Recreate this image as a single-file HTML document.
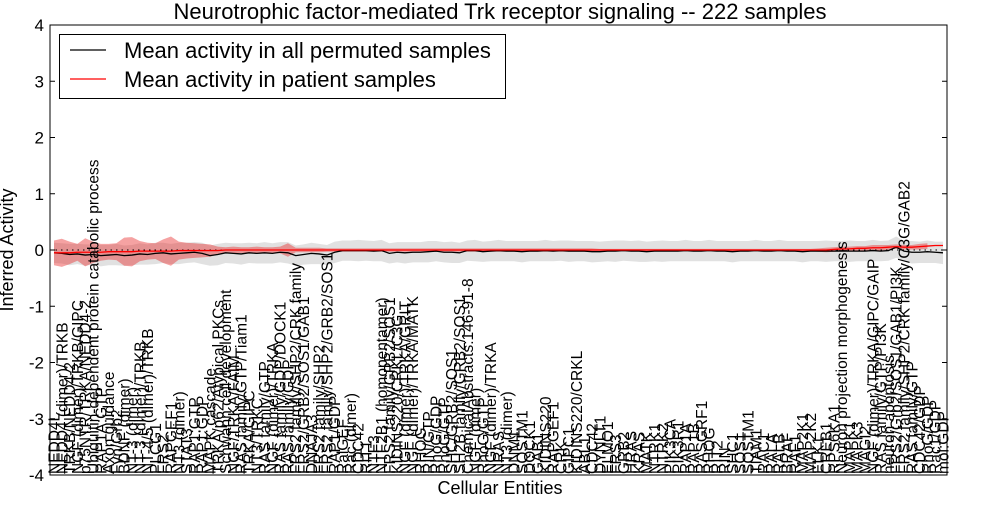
<!DOCTYPE html>
<html><head><meta charset="utf-8"><style>
body{margin:0;background:#fff;}
svg text{font-family:"Liberation Sans",sans-serif;}
</style></head><body>
<svg id="chart" width="1000" height="500" xmlns="http://www.w3.org/2000/svg">
<rect width="1000" height="500" fill="#fff"/>
<g id="bands"></g><g id="lines"></g><g id="xlabels"></g><g id="axes"></g>
</svg>
<script>
const labels=["NEDD4L","NEDD4 (dimer)/TRKB","TRKB/NEDD4-2","NGF (dimer)/TRKB/GIPC","p75NTR/TRKA/NEDD4-2","Ubiquitin-dependent protein catabolic process","RAP1A:GTP","Axon guidance","Fyn/Grb2","BDNF (dimer)","NT-3 (dimer)","NT-3 (dimer)/TRKB","NT-4/5 (dimer)/TRKB","PLCG1","FRS2","RAPGEF1","NT3 (dimer)","STAT3","RAP1:GTP","RAP1:GDP","MAPK cascade","TRKA/p62/Atypical PKCs","Schwann cell development","NGF/TRKA/FAIM","RAS family/GTP/Tiam1","TRKA/GIPC","NT3/TRKC","RAS family/GTP","NGF (dimer)/TRKA","RAS family/GDP/DOCK1","RAS family/GDP","FRS2 family/SHP2/CRK family","FRS2/GRB2/SOS1/GAB1","DNAJA3","FRS2 family/SHP2","FRS2 family/SHP2/GRB2/SOS1","RAP1/GDP","RalGEF","Rac (dimer)","CDC42","RIT1","NTF3","NTF2B1 (homopentamer)","FRS2 family/GRB2/SOS1","KIDINS220/CRKL/C3G","NGF (dimer)/TRKA/GRIT","NGF (dimer)/TRKA/MATK","RHOG","RIN/GTP","RhoG/GDP","RhoG/GTP","SHC/GRB2/SOS1","SH2B family/GRB2/SOS1","ChemicalAbstracts:146-91-8","NGF (dimer)","RhoG/GTP","NGF (dimer)/TRKA","NRAS","NT3 (dimer)","DNM1","SQSTM1","DOCK1","GAB1","KIDINS220","RAPGEF1","CRK","GIPC1","KIDINS220/CRKL","ABL1","CDC42","DYNLT1","ELMO1","FRS3","GRB2","HRAS","KRAS","MATK","NTRK1","NTRK2","PIK3CA","PIK3R1","RAP1A","RAP1B","RASGRF1","RHOG","RIT2","RIN","SHC1","SOS1","SQSTM1","TIAM1","RAC1","RALA","RALB","BRAF","RAF1","MAP2K1","MAP2K2","ELK1","CREB1","RPS6KA1","Neuron projection morphogenesis","MAPK1","MAPK3","MAGI2","NGF (dimer)/TRKA/GIPC/GAIP","RAS family/GTP/PI3K","neuron apoptosis","FRS2/Grb2/SOS1/GAB1/PI3K","FRS2 family/SHP2/CRK family/C3G/GAB2","RAS family/GTP","CDC42/GDP","RhoG/GDP","Rac1/GDP","mol:GDP"];
const permMean=[-0.05,-0.06,-0.08,-0.07,-0.09,-0.08,-0.1,-0.09,-0.08,-0.1,-0.09,-0.07,-0.08,-0.06,-0.05,-0.07,-0.06,-0.05,-0.04,-0.06,-0.1,-0.08,-0.05,-0.06,-0.07,-0.05,-0.06,-0.05,-0.06,-0.04,-0.05,-0.1,-0.08,-0.06,-0.07,-0.09,-0.04,-0.01,-0.01,-0.01,-0.01,-0.02,-0.01,-0.06,-0.04,-0.05,-0.04,-0.04,-0.03,-0.02,-0.04,-0.04,-0.05,-0.01,-0.01,-0.03,-0.02,-0.01,-0.02,-0.02,-0.03,-0.02,-0.02,-0.01,-0.02,-0.01,-0.02,-0.02,-0.02,-0.03,-0.03,-0.02,-0.02,-0.01,-0.02,-0.02,-0.03,-0.02,-0.02,-0.02,-0.02,-0.01,-0.02,-0.02,-0.01,-0.02,-0.02,-0.03,-0.02,-0.02,-0.01,-0.02,-0.02,-0.01,-0.02,-0.02,-0.03,-0.02,-0.02,-0.02,-0.02,-0.02,-0.02,-0.02,-0.02,-0.01,-0.02,-0.01,0.05,-0.02,-0.04,-0.04,-0.03,-0.04,-0.05];
const permSd=[0.18,0.18,0.19,0.18,0.19,0.18,0.19,0.18,0.19,0.18,0.18,0.19,0.18,0.19,0.18,0.18,0.19,0.18,0.18,0.19,0.18,0.19,0.18,0.18,0.19,0.18,0.18,0.19,0.18,0.18,0.19,0.18,0.18,0.19,0.18,0.18,0.19,0.18,0.18,0.19,0.18,0.18,0.19,0.18,0.18,0.19,0.18,0.18,0.19,0.18,0.18,0.19,0.18,0.18,0.19,0.18,0.18,0.19,0.18,0.18,0.19,0.18,0.18,0.19,0.18,0.18,0.19,0.18,0.18,0.19,0.18,0.18,0.19,0.18,0.18,0.19,0.18,0.18,0.19,0.18,0.18,0.19,0.18,0.18,0.19,0.18,0.18,0.19,0.18,0.18,0.19,0.18,0.18,0.19,0.18,0.18,0.19,0.18,0.18,0.19,0.18,0.18,0.19,0.18,0.18,0.19,0.18,0.18,0.19,0.18,0.2,0.19,0.2,0.19,0.2];
const patMean=[-0.05,-0.05,-0.05,-0.04,-0.04,-0.04,-0.04,-0.03,-0.03,-0.03,-0.03,-0.02,-0.02,-0.02,-0.02,-0.02,-0.01,-0.01,-0.01,-0.01,-0.01,-0.01,0,0,0,0,0,0,0,0,0,0,0,0,0,0,0,0,0,0,0,0,0,0,0,0,0,0,0,0,0,0,0,0,0,0,0,0,0,0,0,0,0,0,0,0,0,0,0,0,0,0,0,0,0,0,0,0,0,0,0,0,0,0,0,0,0,0,0,0,0,0,0,0,0,0,0,0,0,0,0.01,0.02,0.02,0.03,0.03,0.04,0.04,0.05,0.06,0.05,0.05,0.06,0.07,0.08,0.08];
const patSd=[0.22,0.25,0.2,0.15,0.25,0.19,0.15,0.14,0.15,0.25,0.26,0.18,0.15,0.14,0.21,0.26,0.16,0.14,0.13,0.12,0.11,0.07,0.05,0.06,0.05,0.05,0.06,0.05,0.05,0.06,0.12,0.04,0.04,0.04,0.04,0.03,0.03,0.03,0.03,0.03,0.03,0.03,0.03,0.03,0.03,0.03,0.03,0.03,0.03,0.03,0.03,0.03,0.03,0.03,0.03,0.03,0.03,0.03,0.03,0.03,0.03,0.03,0.03,0.03,0.03,0.03,0.03,0.03,0.03,0.03,0.02,0.02,0.02,0.02,0.02,0.02,0.02,0.02,0.02,0.02,0.02,0.02,0.02,0.02,0.02,0.02,0.02,0.02,0.02,0.02,0.02,0.02,0.02,0.02,0.02,0.02,0.02,0.02,0.03,0.04,0.04,0.04,0.04,0.04,0.04,0.05,0.05,0.04,0.04,0.04,0.04,0.05,0.05];
const yTicks=[-4,-3,-2,-1,0,1,2,3,4];
const NS="http://www.w3.org/2000/svg";
const L=50,R=947,T=25,B=475;
const N=labels.length;
const x=i=>54+i*(943-54)/(N-1);
const y=v=>T+(4-v)*(B-T)/8;
function mk(tag,attrs,parent){const e=document.createElementNS(NS,tag);for(const k in attrs)e.setAttribute(k,attrs[k]);parent.appendChild(e);return e;}
const bands=document.getElementById('bands'),lines=document.getElementById('lines'),xl=document.getElementById('xlabels'),ax=document.getElementById('axes');
function band(m,s,fill,op,name){const n=Math.min(m.length,s.length,N);const up=[],dn=[];for(let i=0;i<n;i++){up.push(x(i)+","+y(m[i]+s[i]));dn.unshift(x(i)+","+y(m[i]-s[i]));}
const p=mk('polygon',{points:up.concat(dn).join(" "),fill:fill,'fill-opacity':op,stroke:'none'},bands);

}
band(permMean,permSd,'#c8c8c8',0.55,'permuted-band');
band(patMean,patSd,'#e83030',0.45,'patient-band');
mk('line',{x1:L,x2:R,y1:y(0),y2:y(0),stroke:'#000','stroke-dasharray':'1.5,4'},lines);
function line(m,c,name){const n=Math.min(m.length,N);const pts=[];for(let i=0;i<n;i++)pts.push(x(i)+","+y(m[i]));const p=mk('polyline',{points:pts.join(" "),fill:'none',stroke:c,'stroke-width':1.3},lines);

}
line(permMean,'#000','permuted-mean-line');
line(patMean,'#ff0000','patient-mean-line');
labels.forEach((s,i)=>{const t=mk('text',{x:0,y:0,transform:`translate(${x(i)+5.5},474) rotate(-90)`,'font-size':15.5},xl);t.textContent=s;

});
yTicks.forEach(v=>{mk('line',{x1:L,x2:L+5,y1:y(v),y2:y(v),stroke:'#000'},ax);mk('line',{x1:R-5,x2:R,y1:y(v),y2:y(v),stroke:'#000'},ax);
const t=mk('text',{x:44,y:y(v)+6,'text-anchor':'end','font-size':17},ax);t.textContent=v;

});
const fr=mk('rect',{x:L,y:T,width:R-L,height:B-T,fill:'none',stroke:'#000'},ax);


</script>
<svg width="1000" height="500" style="position:absolute;left:0;top:0" xmlns="http://www.w3.org/2000/svg">
<text x="500" y="19" text-anchor="middle" font-size="22" font-family="Liberation Sans">Neurotrophic factor-mediated Trk receptor signaling -- 222 samples</text>
<text x="500" y="494" text-anchor="middle" font-size="18" font-family="Liberation Sans">Cellular Entities</text>
<text transform="translate(13,250) rotate(-90)" text-anchor="middle" font-size="18" font-family="Liberation Sans">Inferred Activity</text>
<g>
<rect x="59.5" y="34.5" width="446" height="64" fill="#fff" stroke="#000"/>
<line x1="70" x2="106" y1="50" y2="50" stroke="#000" stroke-width="1.3"/>
<text x="124" y="58" font-size="22" font-family="Liberation Sans">Mean activity in all permuted samples</text>
<line x1="70" x2="106" y1="79" y2="79" stroke="#ff0000" stroke-width="1.3"/>
<text x="124" y="87" font-size="22" font-family="Liberation Sans">Mean activity in patient samples</text>
</g>
</svg>
</body></html>
